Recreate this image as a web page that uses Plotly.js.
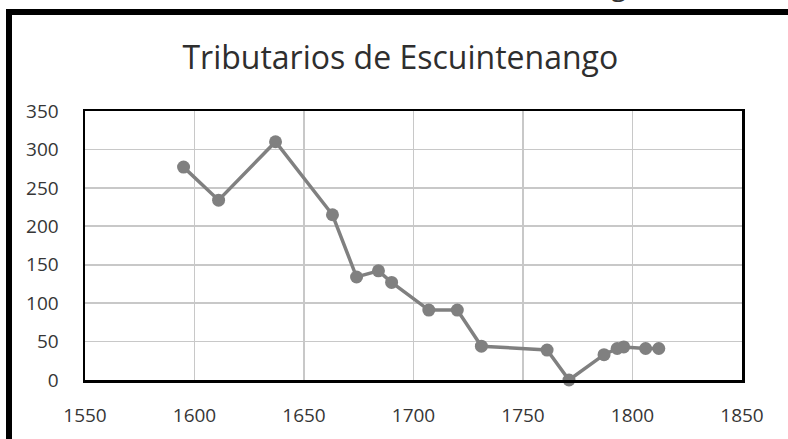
<!DOCTYPE html>
<html>
<head>
<meta charset="utf-8">
<script src="https://cdn.plot.ly/plotly-3.0.1.min.js"></script>
<style>
  html, body { margin: 0; padding: 0; background: #ffffff; }
  #wrap { position: relative; width: 788px; height: 439px; overflow: hidden; }
  #chart { position: absolute; left: 0; top: 0; width: 788px; height: 439px; }
  .bar { position: absolute; background: #000; }
</style>
</head>
<body>
<div id="wrap">
  <div id="chart"></div>
  <div class="bar" style="left:6px; top:9px; width:6px; height:430px;"></div>
  <div class="bar" style="left:6px; top:9px; width:782px; height:6px;"></div>
</div>
<script>
const titleText = "Tributarios de Escuintenango";
const years = [1595, 1611, 1637, 1663, 1674, 1684, 1690, 1707, 1720, 1731, 1761, 1771, 1787, 1793, 1796, 1806, 1812];
const tributarios = [277, 234, 310, 215, 134, 142, 127, 91, 91, 44, 39, 0, 33, 41, 43, 41, 41];
const xTicks = [1550, 1600, 1650, 1700, 1750, 1800, 1850];
const yTicks = [0, 50, 100, 150, 200, 250, 300, 350];

const trace = {
  x: years,
  y: tributarios,
  type: 'scatter',
  mode: 'lines+markers',
  line: { color: '#808080', width: 3.5 },
  marker: { color: '#808080', size: 13 },
  cliponaxis: false,
  hoverinfo: 'x+y'
};

const fontFam = '"Open Sans", "Noto Sans", sans-serif';

const layout = {
  width: 788,
  height: 439,
  margin: { l: 85, r: 46, t: 111, b: 59, pad: 0 },
  paper_bgcolor: '#ffffff',
  plot_bgcolor: '#ffffff',
  showlegend: false,
  font: { family: fontFam, color: '#363636', size: 19 },
  title: {
    text: titleText,
    font: { family: fontFam, size: 32, color: '#2e2e2e' },
    x: 0.508, xref: 'container', xanchor: 'center',
    y: 0.868, yref: 'container', yanchor: 'middle'
  },
  xaxis: {
    range: [1550, 1850],
    tickvals: xTicks,
    ticktext: xTicks.map(String),
    showgrid: true,
    gridcolor: '#c8c8c8',
    gridwidth: 1.8,
    zeroline: false,
    showline: true,
    mirror: true,
    linecolor: '#000000',
    linewidth: 2.5,
    ticks: 'outside',
    ticklen: 17,
    tickcolor: 'rgba(0,0,0,0)',
    tickfont: { family: fontFam, size: 19, color: '#363636' }
  },
  yaxis: {
    range: [0, 350],
    tickvals: yTicks,
    ticktext: yTicks.map(String),
    showgrid: true,
    gridcolor: '#c8c8c8',
    gridwidth: 1.8,
    zeroline: false,
    showline: true,
    mirror: true,
    linecolor: '#000000',
    linewidth: 2.5,
    ticks: 'outside',
    ticklen: 20,
    tickcolor: 'rgba(0,0,0,0)',
    tickfont: { family: fontFam, size: 19, color: '#363636' }
  },
  annotations: [{
    text: 'g',
    xref: 'paper', yref: 'paper',
    x: (618 - 85) / 657, y: 1 + (111 - 5) / 269,
    xanchor: 'center', yanchor: 'bottom',
    showarrow: false,
    font: { family: fontFam, size: 28, color: '#333333' }
  }]
};

Plotly.newPlot('chart', [trace], layout, { displayModeBar: false, staticPlot: true });
</script>
</body>
</html>
